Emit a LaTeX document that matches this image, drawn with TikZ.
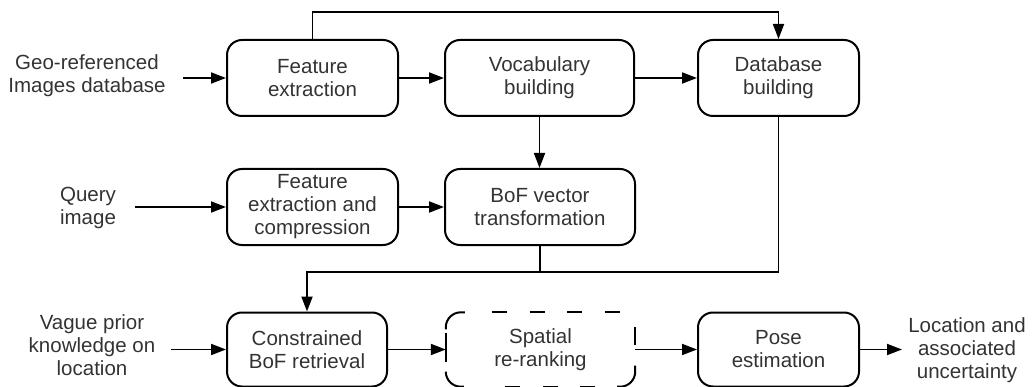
\documentclass[tikz,border=0pt]{standalone}
\usepackage{fontspec}
\setmainfont{Liberation Sans}
\usetikzlibrary{arrows.meta,calc}
\begin{document}
\begin{tikzpicture}[x=1pt,y=-1pt,
  every node/.style={font=\fontsize{20.5}{23}\selectfont, text=black!80, align=center, inner sep=0pt},
  stage/.style={draw=black, line width=2pt, rounded corners=15pt, minimum height=76pt},
  optstage/.style={draw=none, minimum height=76pt},
  border/.style={draw=black, line width=2pt},
  dashedside/.style={border, dash pattern=on 15pt off 22.7pt},
  flow/.style={line width=1.8pt, -{Triangle[length=15pt,width=11pt]}},
  link/.style={line width=1.8pt}
]
\useasboundingbox (0,0) rectangle (1032,387);

% database branch
\node[stage, minimum width=171pt] (fe)  at (312.5,78)  {Feature\\extraction};
\node[stage, minimum width=189pt] (vb)  at (539.5,78)  {Vocabulary\\building};
\node[stage, minimum width=161pt] (db)  at (778.5,78)  {Database\\building};

% query branch
\node[stage, minimum width=171pt] (fec) at (312.5,207) {Feature\\extraction and\\compression};
\node[stage, minimum width=190pt] (bof) at (540,207)   {BoF vector\\transformation};

% localisation chain
\node[stage, minimum width=160pt, minimum height=74pt] (cbr) at (307,349.5) {Constrained\\BoF retrieval};
\node[optstage, minimum width=189pt, minimum height=74pt] (sr) at (540.5,349.5) {Spatial\\re-ranking};
\node[stage, minimum width=161pt, minimum height=74pt] (pe) at (778.5,349.5) {Pose\\estimation};

% optional stage: dashed rounded outline
\draw[border, rounded corners=15pt] ($(sr.north west)+(0,17)$) -- (sr.north west) -- ($(sr.north west)+(19,0)$);
\draw[dashedside] ($(sr.north west)+(46,0)$) -- ($(sr.north east)+(-12,0)$);
\draw[border] ($(sr.north east)+(0,14.5)$) -- +(0,18);
\draw[border, rounded corners=15pt] ($(sr.south east)+(0,-21)$) -- (sr.south east) -- ($(sr.south east)+(-18,0)$);
\draw[dashedside] ($(sr.south east)+(-40,0)$) -- ($(sr.south west)+(40,0)$);
\draw[border, rounded corners=15pt] ($(sr.south west)+(18,0)$) -- (sr.south west) -- ($(sr.south west)+(0,-14)$);
\draw[border] ($(sr.north west)+(0,20.5)$) -- +(0,29);

% inputs and output
\node (src) at (87,76)    {Geo-referenced\\Images database};
\node (qry) at (88,208)   {Query\\image};
\node (pri) at (92,345)   {Vague prior\\knowledge on\\location};
\node (res) at (967,350)  {Location and\\associated\\uncertainty};

\coordinate (in1) at (183,78);
\coordinate (in2) at (135,207);
\coordinate (in3) at (171,349.5);
\coordinate (out) at (902,349.5);
\coordinate (top) at (0,12);
\coordinate (bus) at (0,272);

\draw[flow] (in1) -- (fe);
\draw[flow] (fe) -- (vb);
\draw[flow] (vb) -- (db);
\draw[flow] (fe.north) -- (fe.north |- top) -| (db.north);
\draw[flow] (vb.south) -- (vb.south |- bof.north);

\draw[flow] (in2) -- (fec);
\draw[flow] (fec) -- (bof);

\draw[link] (bof.south) -- (bof.south |- bus);
\draw[flow] (db.south) -- (db.south |- bus) -| (cbr.north);

\draw[flow] (in3) -- (cbr);
\draw[flow] (cbr) -- (sr);
\draw[flow] (sr) -- (pe);
\draw[flow] (pe) -- (out);
\end{tikzpicture}
\end{document}
